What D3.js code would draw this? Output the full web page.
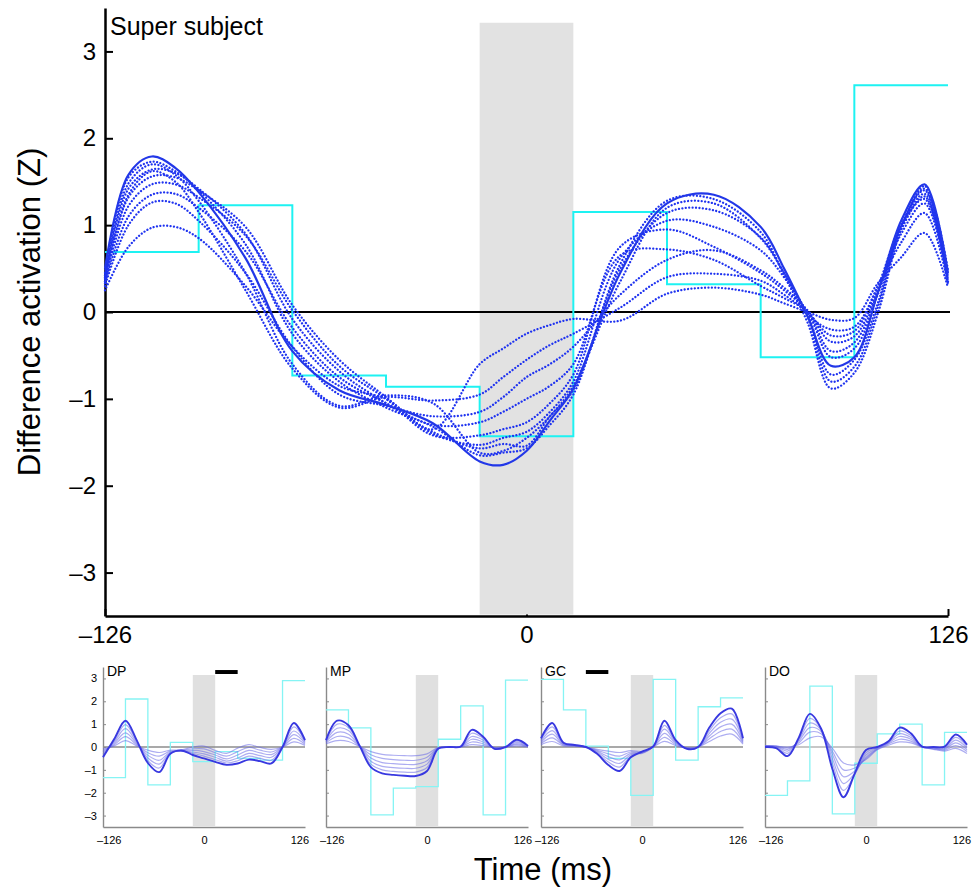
<!DOCTYPE html>
<html>
<head>
<meta charset="utf-8">
<script src="https://cdn.jsdelivr.net/npm/d3@7"></script>
<style>
  body { margin: 0; background: #fff; }
  svg { display: block; font-family: "Liberation Sans", Arial, Helvetica, sans-serif; }
</style>
</head>
<body>
<div id="chart"></div>
<script>
// ---- data: super subject (top panel) ----
const times = [-126,-119,-112,-105,-98,-84,-70,-56,-42,-28,-14,-7,0,7,14,28,42,56,70,77,84,91,98,105,112,119,126];
const binEdges = [-126,-98,-70,-42,-14,14,42,70,98,126];
const shadeWindow = [-14, 14];
const superSteps = [0.69,1.23,-0.73,-0.86,-1.43,1.15,0.32,-0.52,2.61];

const superSolid = [0.50,1.58,1.79,1.66,1.38,0.62,-0.45,-0.90,-1.07,-1.28,-1.72,-1.76,-1.60,-1.25,-0.88,0.45,1.25,1.35,0.98,0.50,-0.05,-0.62,-0.52,0.22,1.05,1.47,0.45];
const superDotted = [
  [0.45,1.55,1.73,1.62,1.40,0.78,-0.25,-0.80,-1.10,-1.32,-1.65,-1.62,-1.57,-1.30,-0.95,0.55,1.28,1.30,0.92,0.42,-0.12,-0.88,-0.70,-0.02,0.95,1.45,0.48],
  [0.40,1.42,1.64,1.60,1.42,0.90,-0.08,-0.68,-1.05,-1.38,-1.57,-1.52,-1.54,-1.20,-0.90,0.50,1.14,1.17,0.86,0.45,-0.05,-0.80,-0.63,0.05,0.98,1.42,0.42],
  [0.38,1.32,1.56,1.55,1.40,0.98,0.08,-0.55,-0.98,-1.40,-1.53,-1.45,-1.38,-1.15,-0.80,0.62,1.05,0.98,0.71,0.40,-0.02,-0.72,-0.55,0.10,1.00,1.40,0.40],
  [0.35,1.22,1.47,1.47,1.32,0.88,0.02,-0.62,-1.00,-1.42,-1.42,-1.35,-1.27,-1.05,-0.72,0.75,0.95,0.75,0.45,0.25,0.00,-0.52,-0.42,0.20,0.98,1.36,0.38],
  [0.33,1.10,1.35,1.36,1.20,0.70,-0.18,-0.75,-1.05,-1.30,-1.27,-1.15,-1.00,-0.85,-0.60,0.65,0.72,0.60,0.30,0.16,0.00,-0.45,-0.35,0.22,0.95,1.33,0.36],
  [0.30,1.00,1.26,1.25,1.05,0.45,-0.40,-0.95,-1.08,-1.20,-1.15,-0.98,-0.75,-0.60,-0.40,0.20,0.60,0.71,0.48,0.28,0.02,-0.34,-0.28,0.25,0.90,1.25,0.35],
  [0.35,1.35,1.62,1.50,1.15,0.25,-0.65,-1.10,-0.98,-1.02,-0.95,-0.75,-0.55,-0.38,-0.25,0.05,0.40,0.44,0.36,0.20,0.00,-0.27,-0.22,0.28,0.80,1.14,0.32],
  [0.25,0.75,0.97,0.98,0.85,0.30,-0.40,-0.85,-1.00,-1.35,-0.60,-0.42,-0.25,-0.15,-0.08,-0.10,0.21,0.28,0.20,0.10,0.00,-0.09,-0.07,0.33,0.63,0.91,0.28],
  [0.42,1.48,1.70,1.58,1.28,0.45,-0.60,-1.08,-0.96,-1.05,-1.62,-1.60,-1.45,-1.20,-0.85,0.35,1.20,1.25,0.85,0.45,-0.02,-0.20,-0.17,0.30,1.00,1.30,0.34]
];

// ---- data: individual subjects (bottom row) ----
// the small panels run slightly past +-126 ms
const panelTimes = [-133.5,-118.7,-103.8,-89,-74.2,-59.3,-44.5,-29.7,-14.8,0,14.8,29.7,44.5,59.3,74.2,89,103.8,118.7,133.5];
const panelEdges = [-133.5,-103.8,-74.2,-44.5,-14.8,14.8,44.5,74.2,103.8,133.5];
const panelShade = [-14.8, 14.8];
const panelNames = ["DP", "MP", "GC", "DO"];

const dpSteps = [-1.34,2.10,-1.66,0.20,-0.64,-0.20,-0.50,-0.57,2.90];
const mpSteps = [1.62,0.84,-2.97,-1.80,-1.73,0.34,1.80,-2.97,2.93];
const gcSteps = [2.96,1.62,0.04,-0.50,-2.12,2.96,-0.57,1.76,2.15];
const doSteps = [-2.12,-1.48,2.66,-2.93,-0.71,0.57,1.00,-1.66,0.64];

// first row of each set is the strongest (dark) curve
const dpCurves = [
  [-0.45,0.35,1.15,0.30,-0.70,-1.10,-0.30,-0.15,-0.35,-0.50,-0.65,-0.78,-0.72,-0.55,-0.62,-0.72,0.00,1.05,0.30],
  [-0.38,0.28,0.98,0.25,-0.60,-0.92,-0.28,-0.17,-0.28,-0.40,-0.55,-0.70,-0.60,-0.40,-0.50,-0.58,0.00,0.88,0.26],
  [-0.30,0.22,0.80,0.20,-0.48,-0.75,-0.25,-0.18,-0.22,-0.30,-0.45,-0.62,-0.48,-0.28,-0.38,-0.45,0.00,0.70,0.22],
  [-0.22,0.16,0.62,0.15,-0.36,-0.58,-0.22,-0.18,-0.15,-0.20,-0.35,-0.52,-0.35,-0.15,-0.26,-0.33,0.00,0.54,0.17],
  [-0.15,0.10,0.45,0.10,-0.25,-0.40,-0.18,-0.15,-0.08,-0.08,-0.25,-0.40,-0.20,-0.02,-0.14,-0.22,0.00,0.38,0.12],
  [-0.08,0.05,0.28,0.05,-0.14,-0.24,-0.14,-0.12,0.00,0.04,-0.15,-0.28,-0.05,0.10,-0.02,-0.10,0.00,0.22,0.07]
];
const mpCurves = [
  [0.30,1.15,0.95,0.05,-0.88,-1.15,-1.22,-1.26,-1.27,-1.05,-0.08,0.00,0.02,0.75,0.45,-0.08,0.00,0.32,0.05],
  [0.28,1.00,0.85,0.05,-0.75,-1.00,-1.07,-1.10,-1.10,-0.90,-0.07,0.00,0.02,0.60,0.38,-0.06,0.00,0.26,0.04],
  [0.25,0.82,0.72,0.05,-0.62,-0.85,-0.90,-0.93,-0.93,-0.75,-0.06,0.00,0.02,0.46,0.30,-0.05,0.00,0.20,0.03],
  [0.22,0.64,0.56,0.04,-0.48,-0.68,-0.73,-0.76,-0.76,-0.60,-0.05,0.00,0.01,0.34,0.22,-0.04,0.00,0.15,0.02],
  [0.18,0.46,0.40,0.03,-0.34,-0.50,-0.55,-0.58,-0.58,-0.45,-0.04,0.00,0.01,0.22,0.14,-0.03,0.00,0.10,0.01],
  [0.14,0.28,0.24,0.02,-0.20,-0.32,-0.36,-0.38,-0.38,-0.30,-0.03,0.00,0.00,0.10,0.06,-0.02,0.00,0.05,0.00]
];
const gcCurves = [
  [0.38,1.05,0.19,0.09,0.00,-0.30,-0.79,-1.05,-0.45,-0.20,0.02,1.15,0.30,-0.08,0.00,0.85,1.48,1.68,0.38],
  [0.32,0.88,0.17,0.08,0.00,-0.26,-0.66,-0.88,-0.40,-0.22,0.02,0.95,0.26,-0.07,0.00,0.72,1.28,1.45,0.33],
  [0.26,0.72,0.14,0.07,0.00,-0.22,-0.54,-0.72,-0.34,-0.25,0.02,0.78,0.21,-0.06,0.00,0.60,1.08,1.22,0.28],
  [0.20,0.56,0.11,0.06,0.00,-0.18,-0.42,-0.56,-0.28,-0.28,0.01,0.60,0.16,-0.05,0.00,0.48,0.88,1.00,0.23],
  [0.15,0.40,0.08,0.05,0.00,-0.14,-0.30,-0.40,-0.22,-0.25,0.01,0.42,0.11,-0.04,0.00,0.36,0.68,0.78,0.18],
  [0.10,0.24,0.05,0.04,0.00,-0.10,-0.18,-0.24,-0.16,-0.20,0.00,0.25,0.06,-0.03,0.00,0.24,0.48,0.56,0.13]
];
const doCurves = [
  [0.00,-0.05,-0.40,0.40,1.45,0.80,-0.95,-2.20,-1.15,-0.13,0.00,0.25,0.85,0.60,0.02,0.00,0.02,0.55,0.10],
  [0.03,0.00,-0.28,0.35,1.25,0.80,-0.70,-1.90,-1.20,-0.25,-0.02,0.22,0.70,0.50,0.02,-0.02,-0.02,0.42,0.02],
  [0.04,0.02,-0.18,0.30,1.05,0.75,-0.50,-1.60,-1.15,-0.35,-0.05,0.20,0.58,0.42,0.01,-0.04,-0.06,0.30,-0.05],
  [0.05,0.03,-0.10,0.25,0.85,0.68,-0.32,-1.30,-1.05,-0.45,-0.08,0.17,0.46,0.34,0.00,-0.06,-0.10,0.18,-0.12],
  [0.05,0.04,-0.04,0.18,0.65,0.58,-0.18,-1.00,-0.92,-0.50,-0.10,0.13,0.34,0.26,0.00,-0.08,-0.14,0.06,-0.20],
  [0.05,0.04,0.00,0.10,0.40,0.45,-0.05,-0.70,-0.78,-0.55,-0.12,0.08,0.22,0.18,0.00,-0.10,-0.18,-0.06,-0.28]
];
// significance bars [start, end] in ms (null = none)
const panelBars = [[14.8, 44.5], null, [-74.2, -44.5], null];

const panelSteps = [dpSteps, mpSteps, gcSteps, doSteps];
const panelCurves = [dpCurves, mpCurves, gcCurves, doCurves];

// ---- setup ----
const W = 976, H = 888;
const svg = d3.select("#chart").append("svg")
  .attr("width", W)
  .attr("height", H);

const fmt = d => d < 0 ? "\u2013" + Math.abs(d) : String(d);

function stepData(steps, edges) {
  const pts = steps.map((v, i) => ({t: edges[i], v: v}));
  pts.push({t: edges[edges.length - 1], v: steps[steps.length - 1]});
  return pts;
}

// ---- top panel ----
const x = d3.scaleLinear().domain([-126, 126]).range([105, 948]);
const y = d3.scaleLinear().domain([-3.5, 3.5]).range([616, 8]);

const mainPlot = svg.append("g");

// axes
const yAxis = mainPlot.append("g")
  .attr("transform", `translate(${x(-126)},0)`)
  .call(d3.axisLeft(y).tickValues([-3,-2,-1,0,1,2,3]).tickSize(-8).tickSizeOuter(0).tickPadding(9).tickFormat(fmt));
const xAxis = mainPlot.append("g")
  .attr("transform", `translate(0,${y(-3.5)})`)
  .call(d3.axisBottom(x).tickValues([-126, 0, 126]).tickSize(-7).tickSizeOuter(0).tickPadding(10).tickFormat(fmt));
[yAxis, xAxis].forEach(a => {
  a.select(".domain").attr("stroke", "#000").attr("stroke-width", 2.5);
  a.selectAll(".tick line").attr("stroke", "#000").attr("stroke-width", 2);
  a.selectAll("text").style("font-size", "24px").attr("fill", "#000");
});

// shaded window
mainPlot.append("rect")
  .attr("x", x(shadeWindow[0]))
  .attr("y", y(3.33))
  .attr("width", x(shadeWindow[1]) - x(shadeWindow[0]))
  .attr("height", y(-3.5) - y(3.33) - 1.5)
  .attr("fill", "#e2e2e2");

// zero line
mainPlot.append("line")
  .attr("x1", x(-126)).attr("x2", x(126) + 2)
  .attr("y1", y(0)).attr("y2", y(0))
  .attr("stroke", "#000").attr("stroke-width", 2);

// step function
mainPlot.append("path")
  .datum(stepData(superSteps, binEdges))
  .attr("fill", "none")
  .attr("stroke", "#1ef2f2")
  .attr("stroke-width", 2)
  .attr("d", d3.line().curve(d3.curveStepAfter).x(d => x(d.t)).y(d => y(d.v)));

const line = d3.line()
  .curve(d3.curveCatmullRom.alpha(0.5))
  .x((d, i) => x(times[i]))
  .y(d => y(d));

mainPlot.selectAll(".dotted")
  .data(superDotted)
  .enter().append("path")
  .attr("class", "dotted")
  .attr("fill", "none")
  .attr("stroke", "#1f33f0")
  .attr("stroke-width", 2.3)
  .attr("stroke-linecap", "round")
  .attr("stroke-dasharray", "0.01 3.4")
  .attr("d", line);

mainPlot.append("path")
  .datum(superSolid)
  .attr("fill", "none")
  .attr("stroke", "#2237e8")
  .attr("stroke-width", 2.2)
  .attr("d", line);

mainPlot.append("text")
  .attr("x", 110).attr("y", 35)
  .style("font-size", "25px")
  .text("Super subject");

// y axis title
svg.append("text")
  .attr("transform", "translate(40,312) rotate(-90)")
  .attr("text-anchor", "middle")
  .style("font-size", "31px")
  .text("Difference activation (Z)");

// ---- bottom panels ----
const panelLeft = [103, 326, 541, 765];
const panelWidth = 202;
const py = d3.scaleLinear().domain([-3.5, 3.5]).range([827, 667]);

panelNames.forEach((name, p) => {
  const g = svg.append("g");
  const px = d3.scaleLinear().domain([panelEdges[0], panelEdges[9]]).range([panelLeft[p], panelLeft[p] + panelWidth]);

  const ya = g.append("g")
    .attr("transform", `translate(${panelLeft[p]},0)`)
    .call(d3.axisLeft(py).tickValues([-3,-2,-1,0,1,2,3]).tickSize(-3).tickSizeOuter(0).tickPadding(6)
      .tickFormat(p === 0 ? fmt : ""));
  const xa = g.append("g")
    .attr("transform", `translate(0,${py(-3.5)})`)
    .call(d3.axisBottom(px).tickValues([-126, 0, 126]).tickSize(0).tickSizeOuter(0).tickPadding(9).tickFormat(fmt));
  [ya, xa].forEach(a => {
    a.select(".domain").attr("stroke", "#8a8a8a").attr("stroke-width", 1.4);
    a.selectAll(".tick line").attr("stroke", "#8a8a8a");
    a.selectAll("text").style("font-size", "11px").attr("fill", "#000");
  });

  g.append("rect")
    .attr("x", px(panelShade[0]))
    .attr("y", py(3.15))
    .attr("width", px(panelShade[1]) - px(panelShade[0]))
    .attr("height", py(-3.5) - py(3.15) - 1)
    .attr("fill", "#e0e0e0");

  g.append("line")
    .attr("x1", panelLeft[p]).attr("x2", panelLeft[p] + panelWidth)
    .attr("y1", py(0)).attr("y2", py(0))
    .attr("stroke", p === 3 ? "#b5b5b5" : "#8c8c8c")
    .attr("stroke-width", 1.6);

  g.append("path")
    .datum(stepData(panelSteps[p], panelEdges))
    .attr("fill", "none")
    .attr("stroke", "#86f4f4")
    .attr("stroke-width", 1.3)
    .attr("d", d3.line().curve(d3.curveStepAfter).x(d => px(d.t)).y(d => py(d.v)));

  const pline = d3.line()
    .curve(d3.curveCatmullRom.alpha(0.5))
    .x((d, i) => px(panelTimes[i]))
    .y(d => py(d));

  const curves = panelCurves[p];
  g.selectAll(".light")
    .data(curves.slice(1))
    .enter().append("path")
    .attr("class", "light")
    .attr("fill", "none")
    .attr("stroke", "#6a6ae6")
    .attr("stroke-opacity", 0.55)
    .attr("stroke-width", 1.2)
    .attr("d", pline);

  g.append("path")
    .datum(curves[0])
    .attr("fill", "none")
    .attr("stroke", "#3838e0")
    .attr("stroke-width", 1.9)
    .attr("d", pline);

  if (panelBars[p]) {
    g.append("line")
      .attr("x1", px(panelBars[p][0])).attr("x2", px(panelBars[p][1]))
      .attr("y1", py(3.28)).attr("y2", py(3.28))
      .attr("stroke", "#000").attr("stroke-width", 4);
  }

  g.append("text")
    .attr("x", panelLeft[p] + 4)
    .attr("y", 676)
    .style("font-size", "14px")
    .text(name);
});

svg.append("text")
  .attr("x", 543).attr("y", 880)
  .attr("text-anchor", "middle")
  .style("font-size", "31px")
  .text("Time (ms)");
</script>
</body>
</html>
